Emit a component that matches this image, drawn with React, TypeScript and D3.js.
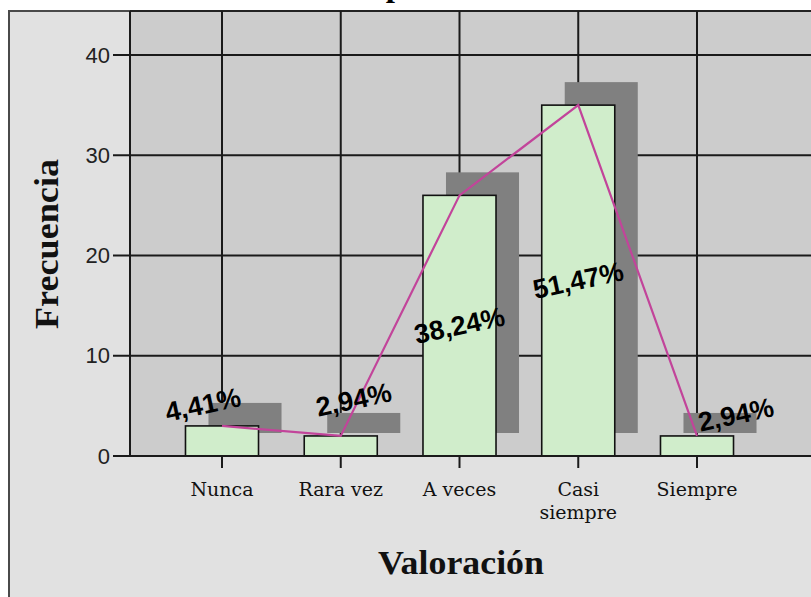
import React from "react";
import * as d3 from "d3";

// Frequency of each rating and its share of the 68 answers
const categories = ["Nunca", "Rara vez", "A veces", "Casi siempre", "Siempre"];
const frequencies = [3, 2, 26, 35, 2];
const percentLabels = ["4,41%", "2,94%", "38,24%", "51,47%", "2,94%"];
const yTicks = [0, 10, 20, 30, 40];

// Label nudges (px) used where the bar is too short to hold its label
const labelNudge: [number, number][] = [
  [-19, -21],
  [13, -36],
  [0, 0],
  [0, 0],
  [39, -21],
];

const W = 811;
const H = 597;
const frameLeft = 9;
const frameTop = 11;
const plotLeft = 130;
const shadow = 23;

export default function App() {
  const x = d3.scalePoint<string>().domain(categories).range([222, 697]);
  const y = d3.scaleLinear().domain([0, 40]).range([456, 55]);
  const barW = x.step() * 0.615;
  const y0 = y(0);

  const line = d3
    .line<number>()
    .x((_, i) => x(categories[i])!)
    .y((d) => y(d));

  const serif = "'Liberation Serif', 'Times New Roman', serif";
  const tickSerif = "'DejaVu Serif', serif";
  const sans = "'Liberation Sans', Arial, sans-serif";

  return (
    <svg
      width={W}
      height={H}
      style={{ position: "absolute", left: 0, top: 0, background: "#ffffff" }}
    >
      {/* chart title, running off the top edge */}
      <text
        x={395}
        y={-4}
        fontFamily={serif}
        fontWeight="bold"
        fontSize={33}
        textAnchor="middle"
        fill="#000"
      >
        p
      </text>

      {/* outer frame */}
      <rect
        x={frameLeft}
        y={frameTop}
        width={W + 10}
        height={H + 10}
        fill="#e1e1e1"
        stroke="#4a4a4a"
        strokeWidth={2}
      />

      {/* plot background */}
      <rect
        x={plotLeft}
        y={frameTop}
        width={W - plotLeft + 5}
        height={y0 - frameTop}
        fill="#cccccc"
      />
      <line x1={plotLeft} x2={W} y1={frameTop} y2={frameTop} stroke="#222" strokeWidth={2} />

      {/* grid */}
      {yTicks.map((t) => (
        <line
          key={"h" + t}
          x1={plotLeft}
          x2={W}
          y1={y(t)}
          y2={y(t)}
          stroke="#1a1a1a"
          strokeWidth={2}
        />
      ))}
      {categories.map((c) => (
        <line
          key={"v" + c}
          x1={x(c)}
          x2={x(c)}
          y1={frameTop}
          y2={y0}
          stroke="#1a1a1a"
          strokeWidth={2}
        />
      ))}

      {/* bar shadows */}
      {frequencies.map((f, i) => {
        const cx = x(categories[i])!;
        return (
          <rect
            key={"s" + i}
            x={cx - barW / 2 + shadow}
            y={y(f) - shadow}
            width={barW}
            height={y0 - y(f)}
            fill="#808080"
          />
        );
      })}

      {/* bars */}
      {frequencies.map((f, i) => {
        const cx = x(categories[i])!;
        return (
          <rect
            key={"b" + i}
            x={cx - barW / 2}
            y={y(f)}
            width={barW}
            height={y0 - y(f)}
            fill="#d0edcb"
            stroke="#111"
            strokeWidth={1.6}
          />
        );
      })}

      {/* frequency polygon */}
      <path d={line(frequencies)!} fill="none" stroke="#c2449a" strokeWidth={2.2} />

      {/* percentage labels */}
      {frequencies.map((f, i) => {
        const cx = x(categories[i])! + labelNudge[i][0];
        const tall = y0 - y(f) > 60;
        const cy = tall ? (y0 + y(f)) / 2 : y(f) + labelNudge[i][1];
        return (
          <text
            key={"p" + i}
            transform={`translate(${cx},${cy}) rotate(-12)`}
            textAnchor="middle"
            dominantBaseline="central"
            fontFamily={sans}
            fontWeight="bold"
            fontSize={27}
            fill="#000"
          >
            {percentLabels[i]}
          </text>
        );
      })}

      {/* y axis */}
      <line x1={plotLeft} x2={plotLeft} y1={frameTop} y2={y0} stroke="#1a1a1a" strokeWidth={2} />
      {yTicks.map((t) => (
        <g key={"yt" + t}>
          <line x1={113} x2={plotLeft} y1={y(t)} y2={y(t)} stroke="#1a1a1a" strokeWidth={2} />
          <text
            x={110}
            y={y(t)}
            textAnchor="end"
            dominantBaseline="central"
            fontFamily={sans}
            fontSize={22}
            fill="#222"
          >
            {t}
          </text>
        </g>
      ))}

      {/* x axis */}
      <line x1={plotLeft} x2={W} y1={y0} y2={y0} stroke="#1a1a1a" strokeWidth={2} />
      {categories.map((c) => {
        const words = c === "Casi siempre" ? ["Casi", "siempre"] : [c];
        return (
          <g key={"xt" + c}>
            <line x1={x(c)} x2={x(c)} y1={y0} y2={y0 + 12} stroke="#1a1a1a" strokeWidth={2} />
            {words.map((w, k) => (
              <text
                key={w}
                x={x(c)}
                y={496 + k * 23}
                textAnchor="middle"
                fontFamily={tickSerif}
                fontSize={19}
                fill="#111"
              >
                {w}
              </text>
            ))}
          </g>
        );
      })}

      {/* axis titles */}
      <text
        x={461}
        y={574}
        textAnchor="middle"
        fontFamily={serif}
        fontWeight="bold"
        fontSize={33}
        textLength={166}
        lengthAdjust="spacingAndGlyphs"
        fill="#111"
      >
        Valoración
      </text>
      <text
        transform={`translate(58,${244}) rotate(-90)`}
        textAnchor="middle"
        fontFamily={serif}
        fontWeight="bold"
        fontSize={33}
        textLength={170}
        lengthAdjust="spacingAndGlyphs"
        fill="#111"
      >
        Frecuencia
      </text>
    </svg>
  );
}
